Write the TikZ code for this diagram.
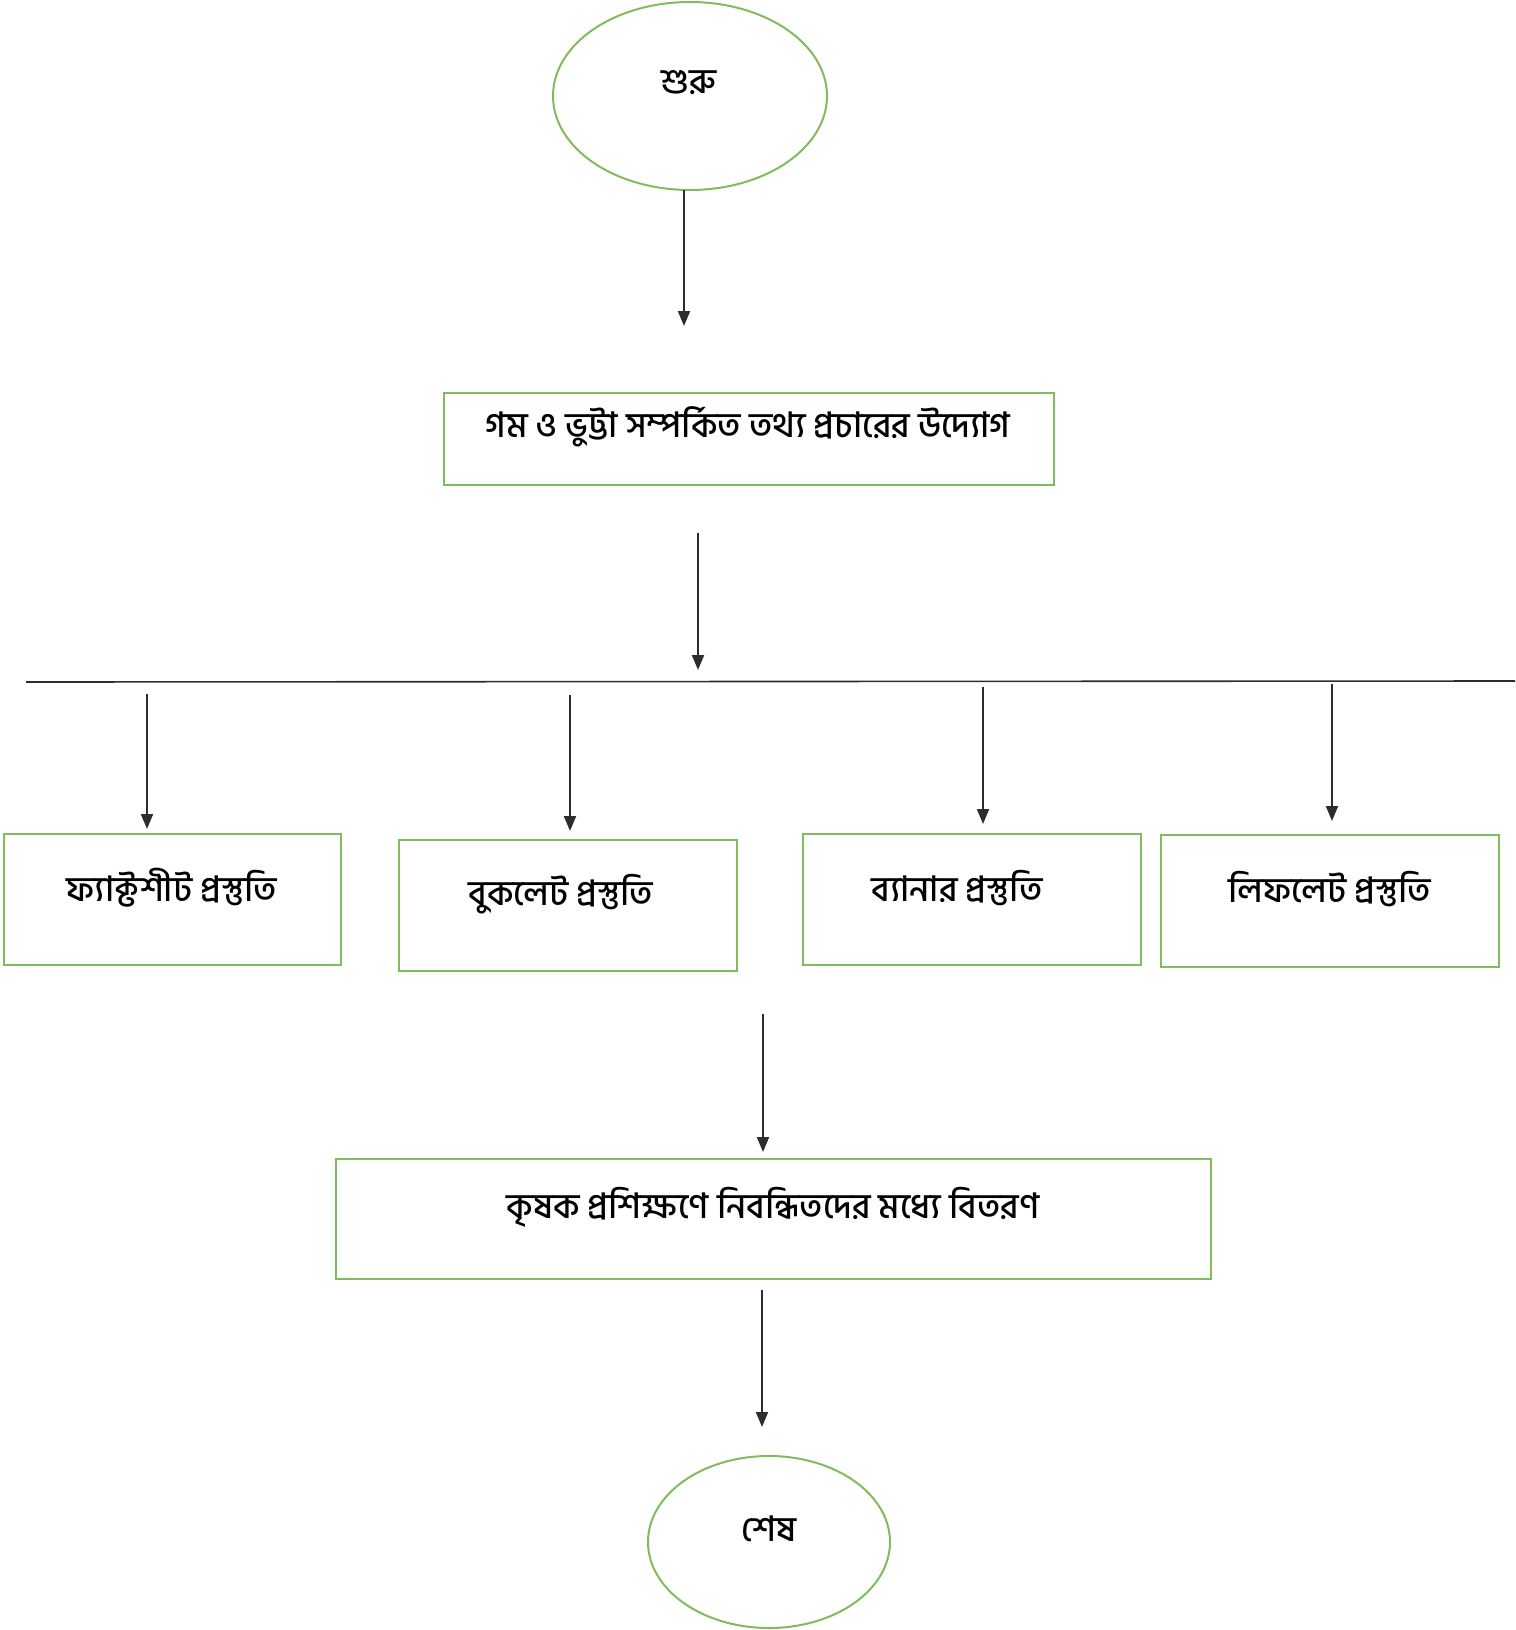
\documentclass[tikz,border=0pt]{standalone}
\usepackage{fontspec}
\newfontfamily\bn[Script=Bengali]{Hind Siliguri Medium}
\usetikzlibrary{shapes.geometric,arrows.meta}
\definecolor{bgreen}{RGB}{128,188,92}
\definecolor{ink}{RGB}{45,45,45}
\begin{document}
\begin{tikzpicture}[x=1pt,y=-1pt,
  box/.style={draw=bgreen, line width=2pt, rectangle, inner sep=0pt},
  oval/.style={draw=bgreen, line width=2pt, ellipse, inner sep=0pt},
  txt/.style={font=\bn\fontsize{35}{42}\selectfont, text=black, inner sep=0pt},
  arr/.style={draw=ink, line width=2pt, -{Triangle[length=15pt,width=12pt]}}]
\fill[white] (0,0) rectangle (1515,1630);
\useasboundingbox (0,0) rectangle (1515,1630);

% start
\node[oval, minimum width=274pt, minimum height=188pt] (start) at (690,96) {};
\node[txt] (starttxt) at (689,83) {শুরু};

% arrow 1
\coordinate (a1s) at (684,190);
\coordinate (a1e) at (684,326);
\draw[arr] (a1s) -- (a1e);

% info box
\node[box, minimum width=610pt, minimum height=92pt] (info) at (749,439) {};
\node[txt] (infotxt) at (748,427) {গম ও ভুট্টা সম্পর্কিত তথ্য প্রচারের উদ্যোগ};

% arrow 2
\coordinate (a2s) at (698,533);
\coordinate (a2e) at (698,670);
\draw[arr] (a2s) -- (a2e);

% horizontal line
\coordinate (hl) at (26,682);
\coordinate (hr) at (1515,681);
\draw[ink, line width=1.6pt] (hl) -- (hr);

% branch arrows
\coordinate (b1s) at (147,694); \coordinate (b1e) at (147,829);
\coordinate (b2s) at (570,695); \coordinate (b2e) at (570,831);
\coordinate (b3s) at (983,687); \coordinate (b3e) at (983,824);
\coordinate (b4s) at (1332,684); \coordinate (b4e) at (1332,821);
\draw[arr] (b1s) -- (b1e);
\draw[arr] (b2s) -- (b2e);
\draw[arr] (b3s) -- (b3e);
\draw[arr] (b4s) -- (b4e);

% four boxes
\node[box, minimum width=337pt, minimum height=131pt] (fact) at (172.5,899.5) {};
\node[txt] (facttxt) at (172,888) {ফ্যাক্টশীট প্রস্তুতি};
\node[box, minimum width=338pt, minimum height=131pt] (book) at (568,905.5) {};
\node[txt] (booktxt) at (561,894) {বুকলেট প্রস্তুতি};
\node[box, minimum width=338pt, minimum height=131pt] (banner) at (972,899.5) {};
\node[txt] (bannertxt) at (957,888) {ব্যানার প্রস্তুতি};
\node[box, minimum width=338pt, minimum height=132pt] (leaf) at (1330,901) {};
\node[txt] (leaftxt) at (1330,889) {লিফলেট প্রস্তুতি};

% arrow 3
\coordinate (a3s) at (763,1014);
\coordinate (a3e) at (763,1152);
\draw[arr] (a3s) -- (a3e);

% distribution box
\node[box, minimum width=875pt, minimum height=120pt] (dist) at (773.5,1219) {};
\node[txt] (disttxt) at (773,1207) {কৃষক প্রশিক্ষণে নিবন্ধিতদের মধ্যে বিতরণ};

% arrow 4
\coordinate (a4s) at (762,1290);
\coordinate (a4e) at (762,1427);
\draw[arr] (a4s) -- (a4e);

% end
\node[oval, minimum width=242pt, minimum height=172pt] (stop) at (769,1542) {};
\node[txt] (stoptxt) at (769,1529) {শেষ};
\end{tikzpicture}
\end{document}
